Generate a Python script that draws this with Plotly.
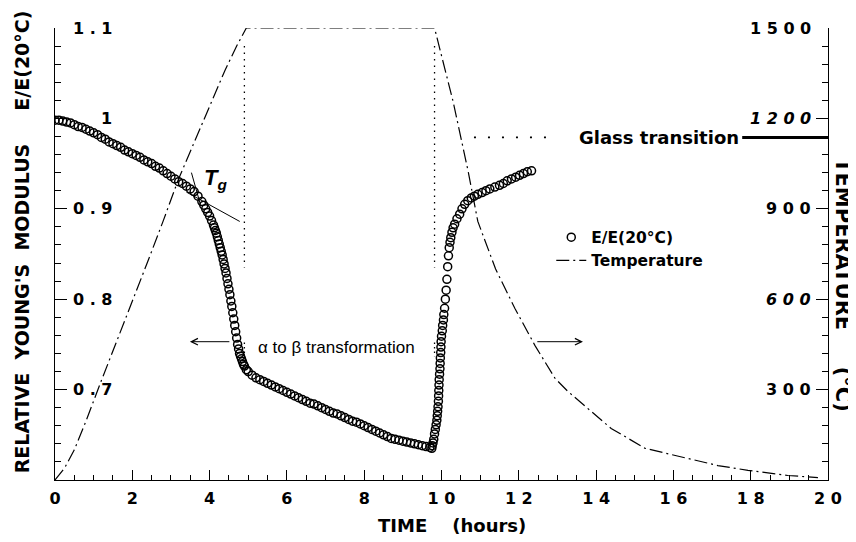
import plotly.graph_objects as go

# furnace schedule: heat to 1500 C, hold, cool (hours, deg C)
temp_hours = [0.0, 0.25, 0.5, 0.8, 1.2, 1.6, 2.0, 2.4, 2.8, 3.2, 3.6, 4.0, 4.4, 4.7, 4.95,
              9.82, 10.04, 10.30, 10.69, 10.94, 11.40, 11.90, 12.42, 12.94, 13.27, 13.79,
              14.39, 15.27, 16.20, 17.15, 17.93, 18.96, 19.74]
temp_celsius = [0, 40, 100, 195, 330, 460, 590, 725, 860, 1000, 1120, 1240, 1360, 1440, 1500,
                1500, 1389, 1256, 1024, 858, 700, 569, 446, 337, 294, 237,
                171, 105, 78, 48, 32, 15, 8]

# relative Young's modulus E/E(20 C)
modulus_hours = [
    0.0, 0.1, 0.2, 0.3, 0.4, 0.5, 0.6, 0.7, 0.8, 0.9, 1.0, 1.1, 1.2, 1.3, 1.4, 1.5, 1.6, 1.7,
    1.8, 1.9, 2.0, 2.1, 2.2, 2.3, 2.4, 2.5, 2.6, 2.7, 2.8, 2.9, 3.0, 3.1, 3.2, 3.3, 3.4, 3.5,
    3.6, 3.7, 3.8, 3.85, 3.9, 3.95, 4.0, 4.05,
    4.1, 4.125, 4.15, 4.175, 4.2, 4.225, 4.25, 4.275, 4.3, 4.325, 4.35, 4.375, 4.4, 4.425,
    4.45, 4.475, 4.5, 4.525, 4.55, 4.575, 4.6, 4.625, 4.65, 4.675, 4.7, 4.725, 4.75, 4.775,
    4.8, 4.825, 4.85, 4.875, 4.9, 4.95,
    5.0, 5.1, 5.2, 5.3, 5.4, 5.5, 5.6, 5.7, 5.8, 5.9, 6.0, 6.1, 6.2, 6.3, 6.4, 6.5, 6.6, 6.7,
    6.8, 6.9, 7.0, 7.1, 7.2, 7.3, 7.4, 7.5, 7.6, 7.7, 7.8, 7.9, 8.0, 8.1, 8.2, 8.3, 8.4, 8.5,
    8.6, 8.7, 8.8, 8.9, 9.0, 9.1, 9.2, 9.3, 9.4, 9.5, 9.6, 9.7, 9.75,
    9.76, 9.78, 9.80, 9.82, 9.84, 9.86, 9.88, 9.89, 9.90, 9.91, 9.92, 9.925, 9.93, 9.935,
    9.94, 9.95, 9.96, 9.965, 9.97, 9.98, 9.985, 9.99, 10.0, 10.02, 10.03, 10.05, 10.06,
    10.08, 10.10, 10.12, 10.14, 10.16, 10.18, 10.20, 10.22, 10.24, 10.27, 10.30, 10.34,
    10.40, 10.47, 10.53, 10.60, 10.68, 10.77, 10.85, 10.94,
    11.05, 11.15, 11.25, 11.38, 11.50, 11.60, 11.70, 11.81, 11.92, 12.02, 12.12, 12.22, 12.33,
]
modulus_ratio = [
    0.998, 0.998, 0.997, 0.996, 0.995, 0.993, 0.991, 0.990, 0.988, 0.986, 0.984, 0.982, 0.979,
    0.977, 0.974, 0.972, 0.970, 0.968, 0.965, 0.963, 0.961, 0.959, 0.957, 0.954, 0.952, 0.950,
    0.947, 0.945, 0.942, 0.939, 0.936, 0.933, 0.930, 0.928, 0.925, 0.922, 0.919, 0.914, 0.908,
    0.904, 0.900, 0.896, 0.892, 0.887,
    0.882, 0.879, 0.876, 0.873, 0.869, 0.865, 0.861, 0.857, 0.853, 0.849, 0.844, 0.839, 0.834,
    0.829, 0.823, 0.817, 0.811, 0.805, 0.798, 0.792, 0.785, 0.778, 0.771, 0.764, 0.757, 0.750,
    0.745, 0.740, 0.737, 0.734, 0.731, 0.728, 0.726, 0.722,
    0.720, 0.716, 0.713, 0.711, 0.709, 0.707, 0.705, 0.703, 0.701, 0.699, 0.697, 0.695, 0.693,
    0.691, 0.689, 0.687, 0.685, 0.684, 0.682, 0.680, 0.678, 0.676, 0.674, 0.673, 0.671, 0.669,
    0.667, 0.665, 0.664, 0.662, 0.660, 0.658, 0.656, 0.654, 0.652, 0.650, 0.648, 0.646, 0.645,
    0.644, 0.643, 0.642, 0.641, 0.640, 0.639, 0.638, 0.637, 0.636, 0.635,
    0.638, 0.641, 0.645, 0.651, 0.656, 0.661, 0.666, 0.671, 0.676, 0.681, 0.687, 0.693, 0.699,
    0.705, 0.711, 0.717, 0.723, 0.729, 0.735, 0.741, 0.747, 0.753, 0.759, 0.765, 0.771, 0.777,
    0.783, 0.790, 0.800, 0.810, 0.822, 0.836, 0.848, 0.857, 0.863, 0.868, 0.874, 0.879, 0.883,
    0.889, 0.894, 0.900, 0.905, 0.909, 0.912, 0.914, 0.916,
    0.918, 0.920, 0.922, 0.924, 0.926, 0.928, 0.931, 0.933, 0.935, 0.937, 0.939, 0.941, 0.942,
]

# tangent construction giving Tg
tangent_a_hours = [3.4, 4.78]
tangent_a_ratio = [0.9185, 0.886]
tangent_b_hours = [3.53, 3.76]
tangent_b_ratio = [0.940, 0.905]

glass_transition_c = 1137
phase_mark_hours = [4.9, 9.82]

x_tickvals = [0, 2, 4, 6, 8, 10, 12, 14, 16, 18, 20]
x_ticktext = ["0", "2", "4", "6", "8", "1 0", "1 2", "1 4", "1 6", "1 8", "2 0"]
e_tickvals = [0.7, 0.8, 0.9, 1.0, 1.1]
e_ticktext = ["0 . 7", "0 . 8", "0 . 9", "1", "1 . 1"]
t_tickvals = [300, 600, 900, 1200, 1500]
t_ticktext = ["3 0 0", "<i>6 0 0</i>", "9 0 0", "<i>1 2 0 0</i>", "1 5 0 0"]

FONT = "Liberation Sans"
WIDE = "DejaVu Sans"
INK = "black"

fig = go.Figure()

fig.add_trace(go.Scatter(
    x=modulus_hours, y=modulus_ratio, name="E/E(20°C)", mode="markers",
    marker=dict(symbol="circle-open", size=8, color=INK, line=dict(width=1.5)),
))
fig.add_trace(go.Scatter(
    x=temp_hours, y=temp_celsius, name="Temperature", mode="lines", yaxis="y2",
    line=dict(color=INK, width=1.2, dash="13px,4px,2px,4px"),
))
for xs, ys in [(tangent_a_hours, tangent_a_ratio), (tangent_b_hours, tangent_b_ratio)]:
    fig.add_trace(go.Scatter(x=xs, y=ys, mode="lines", showlegend=False,
                             line=dict(color=INK, width=1), hoverinfo="skip"))

# glass transition marker: sparse dots, label, then a thick bar to the axis
fig.add_trace(go.Scatter(
    x=[10.84, 12.88], y=[glass_transition_c] * 2, yaxis="y2", mode="lines", showlegend=False,
    line=dict(color=INK, width=1.6, dash="2px,12px"), hoverinfo="skip",
))
fig.add_trace(go.Scatter(
    x=[17.78, 20], y=[glass_transition_c] * 2, yaxis="y2", mode="lines", showlegend=False,
    line=dict(color=INK, width=3), hoverinfo="skip",
))

# faint dotted phase markers at end of heating / start of cooling
for h in phase_mark_hours:
    fig.add_shape(type="line", x0=h, x1=h, y0=1.08, y1=0.835, xref="x", yref="y",
                  line=dict(color=INK, width=1.3, dash="1.5px,5px"))
    fig.add_shape(type="line", x0=h, x1=h, y0=0.752, y1=0.737, xref="x", yref="y",
                  line=dict(color=INK, width=1.3, dash="1.5px,3px"))

# tick labels sit inside the frame, drawn as text at the tick values
for v, t in zip(e_tickvals, e_ticktext):
    fig.add_annotation(xref="paper", yref="y", x=0.0763, y=v, xanchor="right", text=t,
                       showarrow=False, font=dict(size=16, family=WIDE, color=INK, weight="bold"))
for v, t in zip(t_tickvals, t_ticktext):
    fig.add_annotation(xref="paper", yref="y2", x=0.981, y=v, xanchor="right", text=t,
                       showarrow=False, font=dict(size=16, family=WIDE, color=INK, weight="bold"))

fig.add_annotation(x=4.14, y=0.9325, text="<b><i>T<sub>g</sub></i></b>", showarrow=False,
                   font=dict(size=22, family=FONT, color=INK))
fig.add_annotation(x=5.2, y=0.7466, xanchor="left", text="α to β transformation",
                   showarrow=False, font=dict(size=17, family=FONT, color=INK))
fig.add_annotation(x=3.49, y=0.753, ax=4.55, ay=0.753, axref="x", ayref="y", text="",
                   showarrow=True, arrowhead=5, arrowsize=1.3, arrowwidth=1, arrowcolor=INK)
fig.add_annotation(x=13.66, y=0.753, ax=12.44, ay=0.753, axref="x", ayref="y", text="",
                   showarrow=True, arrowhead=5, arrowsize=1.3, arrowwidth=1, arrowcolor=INK)
fig.add_annotation(x=17.75, y=glass_transition_c, yref="y2", xanchor="right",
                   text="Glass transition", showarrow=False,
                   font=dict(size=18, family=WIDE, color=INK, weight="bold"))

fig.add_annotation(xref="paper", yref="paper", x=-0.0427, y=0.528, xanchor="center",
                   textangle=-90, text="RELATIVE  YOUNG'S  MODULUS     E/E(20°C)",
                   showarrow=False, font=dict(size=19, family=WIDE, color=INK, weight="bold"))
fig.add_annotation(xref="paper", yref="paper", x=1.0194, y=0.431, xanchor="center",
                   textangle=90, text="TEMPERATURE     (°C)", showarrow=False,
                   font=dict(size=21, family=WIDE, color=INK, weight="bold"))
fig.add_annotation(xref="paper", yref="paper", x=0.513, y=-0.128,
                   text="TIME    (hours)", showarrow=False,
                   font=dict(size=18, family=WIDE, color=INK, weight="bold"))

fig.update_layout(
    width=856, height=542, autosize=False,
    template="plotly_white",
    plot_bgcolor="white", paper_bgcolor="white",
    margin=dict(l=47, r=36, t=20, b=70),
    font=dict(family=FONT, color=INK),
    showlegend=True,
    legend=dict(x=0.642, y=0.574, xanchor="left", yanchor="top", bgcolor="rgba(0,0,0,0)",
                font=dict(size=15.5, family=WIDE, color=INK, weight="bold"),
                itemwidth=30, tracegroupgap=0),
    xaxis=dict(range=[0, 20], tickvals=x_tickvals, ticktext=x_ticktext, showgrid=False,
               zeroline=False, showline=True, linecolor=INK, linewidth=1.3, ticks="inside",
               ticklen=10, tickwidth=1.2, tickcolor=INK, ticklabelstandoff=4,
               tickfont=dict(size=16, family=WIDE, color=INK, weight="bold"),
               minor=dict(dtick=0.5, ticks="inside", ticklen=5, tickcolor=INK, tickwidth=1)),
    yaxis=dict(range=[0.6, 1.1], tickvals=e_tickvals, showticklabels=False, showgrid=False,
               zeroline=False, showline=True, linecolor=INK, linewidth=1.3, ticks="inside",
               ticklen=12, tickwidth=1.2, tickcolor=INK,
               minor=dict(dtick=0.02, ticks="inside", ticklen=6, tickcolor=INK, tickwidth=1)),
    yaxis2=dict(range=[0, 1500], overlaying="y", side="right", tickvals=t_tickvals,
                showticklabels=False, showgrid=False, zeroline=False, showline=True,
                linecolor=INK, linewidth=1.3, ticks="inside", ticklen=12, tickwidth=1.2,
                tickcolor=INK,
                minor=dict(dtick=60, ticks="inside", ticklen=6, tickcolor=INK, tickwidth=1)),
)

fig.write_html("out.html")
